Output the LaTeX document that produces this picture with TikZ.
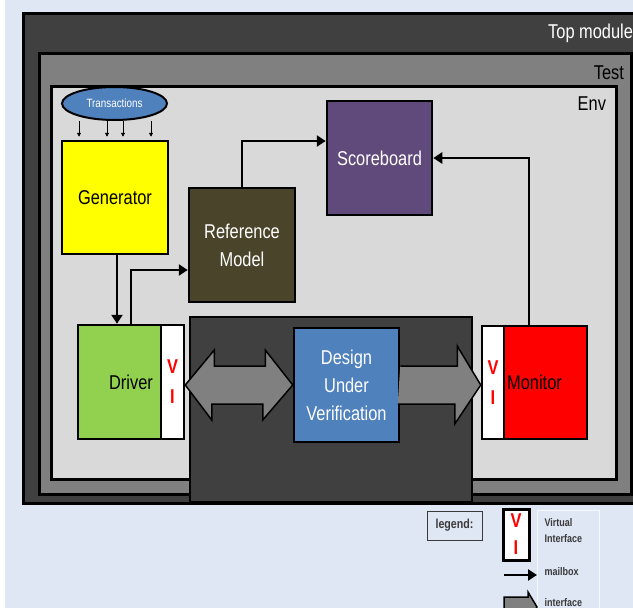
\documentclass[tikz,border=0pt]{standalone}
\usepackage{fontspec}
\setmainfont{Liberation Sans}[FakeStretch=0.82]
\usetikzlibrary{arrows.meta,positioning,shapes.geometric}
\definecolor{pagebg}{RGB}{223,230,244}
\definecolor{topgray}{RGB}{64,64,64}
\definecolor{testgray}{RGB}{128,128,128}
\definecolor{envgray}{RGB}{217,217,217}
\definecolor{dutblue}{RGB}{79,129,189}
\definecolor{genyellow}{RGB}{255,255,0}
\definecolor{drvgreen}{RGB}{146,208,80}
\definecolor{refolive}{RGB}{74,69,42}
\definecolor{scbpurple}{RGB}{96,74,123}
\definecolor{monred}{RGB}{255,0,0}
\definecolor{legtext}{RGB}{58,58,58}

\begin{document}
\begin{tikzpicture}[x=1pt, y=-1pt,
      frame/.style={draw, line width=2.5pt, anchor=north west, inner sep=0pt},
      blk/.style={draw, line width=2.5pt, inner sep=0pt, align=center,
                  font=\fontsize{20}{28}\selectfont},
      vibox/.style={draw, line width=2.5pt, fill=white, inner sep=0pt, align=center,
                    text=monred, font=\fontsize{20}{30}\selectfont\bfseries},
      mb/.style={-{Triangle[length=9pt,width=11pt]}, line width=2.7pt},
      tmb/.style={-{Triangle[length=4pt,width=4pt]}, line width=0.8pt},
      iface/.style={fill=testgray, draw, line width=1.5pt, line join=miter},
      legtxt/.style={anchor=west, align=left, text=legtext,
                     font=\fontsize{11}{16}\selectfont\bfseries}]
    \useasboundingbox (0,0) rectangle (633,608);
    \fill[pagebg] (0,0) rectangle (633,608);
    \fill[white] (0,0) rectangle (5,608);

    % nested containers
    \node[frame, fill=topgray, minimum width=620pt, minimum height=490pt] (top) at (22,12) {};
    \node[frame, fill=testgray, minimum width=592pt, minimum height=441pt] (tst) at (38,52) {};
    \node[frame, fill=envgray, minimum width=565pt, minimum height=393pt] (env) at (50,85) {};
    \node[anchor=east, text=white, font=\fontsize{20}{24}\selectfont]
        at ([xshift=-8pt,yshift=-21pt]top.north east) {Top module};
    \node[anchor=east, font=\fontsize{20}{24}\selectfont]
        at ([xshift=-5pt,yshift=-21pt]tst.north east) {Test};
    \node[anchor=east, font=\fontsize{20}{24}\selectfont]
        at ([xshift=-8pt,yshift=-19pt]env.north east) {Env};

    % env components
    \node[ellipse, draw, line width=2pt, fill=dutblue, text=white, inner sep=0pt,
          minimum width=105pt, minimum height=33pt, font=\fontsize{12}{14}\selectfont]
        (trn) at (114.5,103.5) {Transactions};
    \node[blk, fill=genyellow, minimum width=106pt, minimum height=113pt] (gen) at (115,197.5) {Generator};
    \node[blk, fill=refolive, text=white, minimum width=106pt, minimum height=114pt]
        (ref) at (242,245) {Reference\\Model};
    \node[blk, fill=scbpurple, text=white, minimum width=105pt, minimum height=114pt]
        (scb) at (379.5,158) {Scoreboard};
    \node[draw, line width=1.5pt, fill=topgray, anchor=north west, inner sep=0pt,
          minimum width=282pt, minimum height=185pt] (dutbg) at (189,316) {};
    \node[blk, fill=drvgreen, minimum width=106pt, minimum height=114pt] (drv) at (131,382) {Driver};
    \node[vibox, anchor=east, minimum width=23pt, minimum height=114pt] (vil) at (drv.east) {V\\I};
    \node[blk, fill=monred, minimum width=105pt, minimum height=113pt] (mon) at (534.5,382.5) {Monitor};
    \node[vibox, anchor=west, minimum width=22pt, minimum height=113pt] (vir) at (mon.west) {V\\I};
    \node[blk, fill=dutblue, text=white, minimum width=105pt, minimum height=114pt]
        (dut) at (346.5,385) {Design\\Under\\Verification};

    % mailboxes
    \foreach \dx in {-35.5,-7.5,8.5,36.5}
      \draw[tmb, shorten >=3pt] ([xshift=\dx pt]trn.south) -- ([xshift=\dx pt]trn.south |- gen.north);
    \draw[mb] ([xshift=2pt]gen.south) -- ([xshift=2pt]gen.south |- drv.north);
    \draw[mb] (drv.north) |- ([yshift=-25pt]ref.west);
    \draw[mb] (ref.north) |- ([yshift=17pt]scb.west);
    \draw[mb] ([xshift=-5.5pt]mon.north) |- (scb.east);

    % interfaces
    \draw[iface] (vil.east |- dut.west) -- ++(29,-35) -- ++(0,16) -- ++(51,0) -- ++(0,-16)
        -- (dut.west) -- ++(-30,35) -- ++(0,-16) -- ++(-51,0) -- ++(0,16) -- cycle;
    \filldraw[iface] ([yshift=19pt]dut.east) -- ++(57,0) -- ++(0,-20) -- (vir.west |- dut.east)
        -- ++(-26,39) -- ++(0,-20) -- ++(-57,0);

    % legend
    \node[draw=legtext, line width=1pt, fill=pagebg, minimum width=55pt, minimum height=29pt,
          inner sep=0pt, text=legtext, font=\fontsize{13}{15}\selectfont\bfseries]
        (leg) at (454.5,525.5) {legend:};
    \node[draw=white!70!pagebg, line width=1pt, anchor=north west, inner sep=0pt,
          minimum width=62pt, minimum height=110pt] (legpan) at (537,510) {};
    \node[vibox, line width=3pt, minimum width=26pt, minimum height=51pt,
          font=\fontsize{20}{27}\selectfont\bfseries] (legvi) at (516,534.5) {V\\I};
    \node[legtxt] (legvit) at (541,531) {Virtual\\Interface};
    \node[legtxt] (legmbt) at (541,572) {mailbox};
    \node[legtxt] (legift) at (541,603) {interface};
    \coordinate (legmb) at (504,575);
    \draw[mb] (legmb) -- (legmb -| legpan.west);
    \coordinate (legif) at (504,607);
    \filldraw[iface] ([yshift=10pt]legif) -- ++(24,0) -- ++(0,-5) -- (legif -| legpan.west)
        -- ++(-9,15) -- ++(0,-5) -- ++(-24,0) -- cycle;
  \end{tikzpicture}
\end{document}
